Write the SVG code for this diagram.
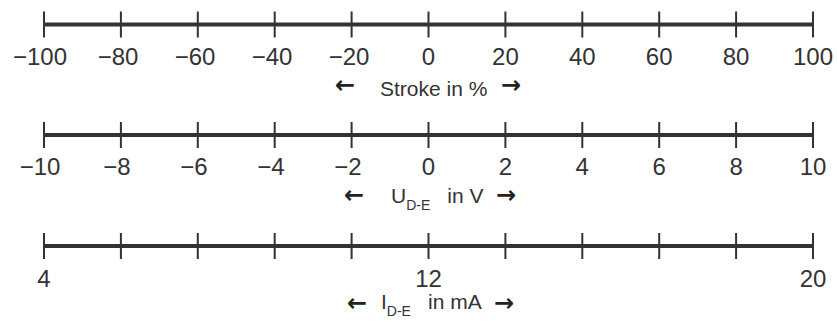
<svg xmlns="http://www.w3.org/2000/svg" width="837" height="322" viewBox="0 0 837 322">
<style>
.axis{stroke:#333;stroke-width:4;fill:none}
.tick{stroke:#333;stroke-width:2;fill:none}
.num{font-family:"Liberation Sans",Arial,sans-serif;font-size:24px;fill:#333;text-anchor:middle}
.lbl{font-family:"Liberation Sans",Arial,sans-serif;font-size:21px;fill:#333}
.sub{font-size:14px}
.arr{font-family:"DejaVu Sans",sans-serif;font-size:24px;fill:#222;font-weight:bold}
</style>
<rect width="837" height="322" fill="#fff"/>
<defs>
<g id="ticks">
<path class="tick" d="M44,-13V13M120.9,-13V13M197.8,-13V13M274.7,-13V13M351.6,-13V13M428.5,-13V13M505.4,-13V13M582.3,-13V13M659.2,-13V13M736.1,-13V13M813,-13V13"/>
<path class="axis" d="M44,0H813"/>
</g>
</defs>
<g id="scale-stroke">
<use href="#ticks" transform="translate(0,24.5)"/>
<text class="num" y="65"><tspan x="40">−100</tspan><tspan x="118">−80</tspan><tspan x="195">−60</tspan><tspan x="272">−40</tspan><tspan x="349">−20</tspan><tspan x="428.5">0</tspan><tspan x="505.4">20</tspan><tspan x="582.3">40</tspan><tspan x="659.2">60</tspan><tspan x="736.1">80</tspan><tspan x="813">100</tspan></text>
<text class="arr" x="335" y="93">←</text>
<text class="lbl" x="380" y="96">Stroke in %</text>
<text class="arr" x="501" y="93">→</text>
</g>
<g id="scale-voltage">
<use href="#ticks" transform="translate(0,135)"/>
<text class="num" y="174.5"><tspan x="40">−10</tspan><tspan x="117">−8</tspan><tspan x="194">−6</tspan><tspan x="271">−4</tspan><tspan x="348">−2</tspan><tspan x="428.5">0</tspan><tspan x="505.4">2</tspan><tspan x="582.3">4</tspan><tspan x="659.2">6</tspan><tspan x="736.1">8</tspan><tspan x="813">10</tspan></text>
<text class="arr" x="344" y="202.5">←</text>
<text class="lbl" x="391" y="203">U<tspan class="sub" dy="7">D-E</tspan><tspan dy="-7" dx="17">in V</tspan></text>
<text class="arr" x="496" y="202.5">→</text>
</g>
<g id="scale-current">
<use href="#ticks" transform="translate(0,246)"/>
<text class="num" y="287"><tspan x="44">4</tspan><tspan x="428.5">12</tspan><tspan x="813">20</tspan></text>
<text class="arr" x="347" y="311">←</text>
<text class="lbl" x="381" y="309">I<tspan class="sub" dy="7">D-E</tspan><tspan dy="-7" dx="17">in mA</tspan></text>
<text class="arr" x="494" y="311">→</text>
</g>
</svg>
